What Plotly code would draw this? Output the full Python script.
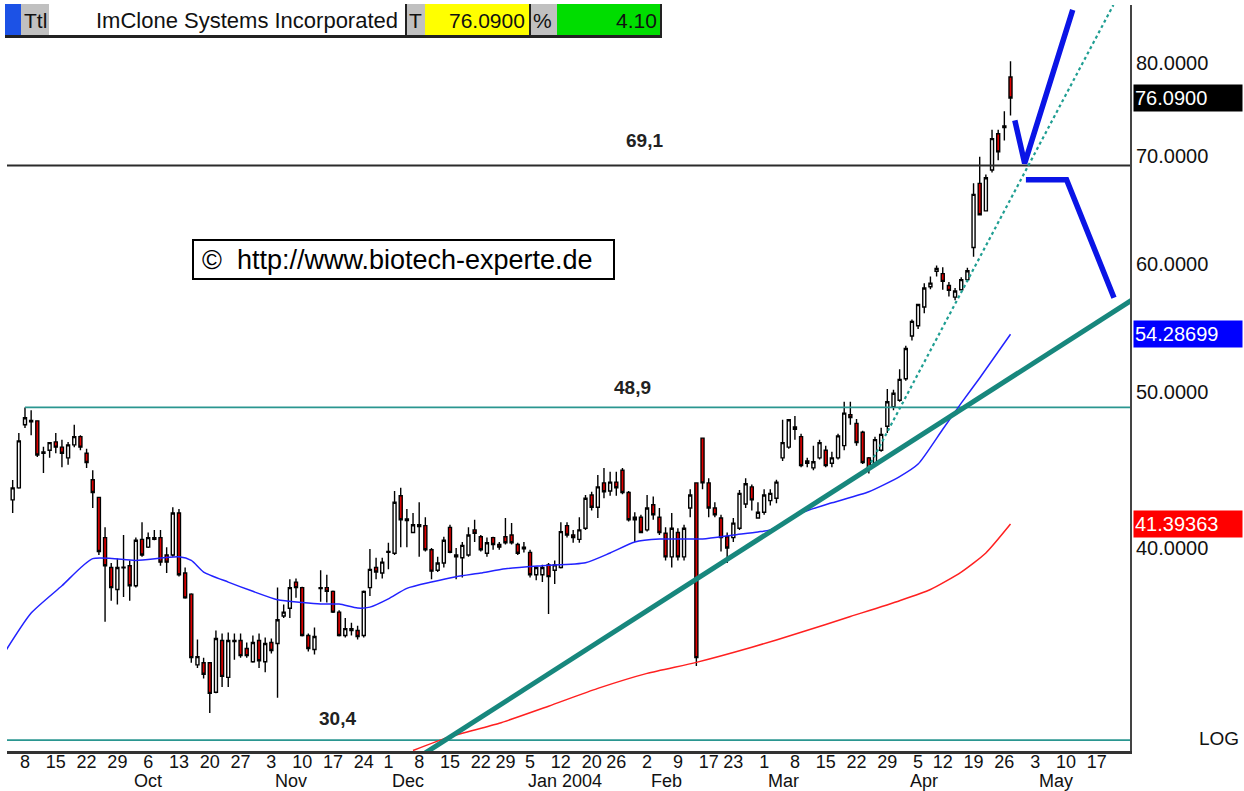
import numpy as np
import pandas as pd
import plotly.graph_objects as go

# ---------------- data ----------------
holidays = ["2003-11-27", "2003-12-25", "2004-01-01", "2004-01-19",
            "2004-02-16", "2004-04-09", "2004-05-31"]
cal = pd.bdate_range("2003-09-03", "2004-05-28")
cal = cal[~cal.isin(pd.to_datetime(holidays))]
day_pos = {d: i for i, d in enumerate(cal)}
first_candle = "2003-09-04"

opens = [42.85, 43.59, 47.70, 48.00, 47.97, 45.80, 46.00, 46.55, 46.20, 45.50,
         46.35, 46.90, 45.80, 44.10, 43.00, 40.60, 38.90, 37.70, 38.88, 39.00,
         37.90, 40.50, 40.05, 40.50, 40.60, 39.60, 39.60, 42.05, 38.60, 37.45,
         33.85, 33.95, 33.95, 32.55, 35.05, 33.25, 35.00, 35.05, 34.65, 34.00,
         35.05, 34.00, 34.95, 34.90, 36.30, 36.70, 38.10, 37.80, 35.30, 34.60,
         37.75, 37.80, 37.60, 36.50, 35.30, 35.65, 35.55, 35.30, 37.80, 38.90,
         38.60, 39.75, 39.70, 43.10, 41.60, 40.90, 41.25, 41.30, 39.90, 38.75,
         39.15, 41.20, 39.60, 39.45, 39.60, 41.05, 40.65, 39.70, 40.60, 40.20,
         40.65, 40.75, 40.20, 39.95, 39.75, 38.50, 38.50, 39.05, 38.75, 38.90,
         41.30, 40.75, 40.50, 41.15, 43.15, 42.40, 43.90, 43.40, 43.95, 44.70,
         43.30, 41.65, 41.80, 41.05, 42.55, 41.80, 40.85, 39.50, 40.90, 39.50,
         42.35, 43.90, 46.80, 43.90, 42.35, 41.75, 40.65, 40.60, 41.15, 42.60,
         43.65, 41.75, 42.10, 42.80, 42.95, 45.50, 46.20, 47.55, 46.90, 45.30,
         44.85, 45.50, 46.00, 45.15, 45.50, 46.30, 48.40, 47.80, 47.20, 45.50,
         45.15, 46.00, 47.60, 48.95, 49.40, 50.95, 54.15, 54.95, 56.45, 58.10,
         59.40, 59.20, 58.20, 57.25, 57.85, 58.70, 61.45, 67.35, 64.75, 68.65,
         72.30, 72.95, 78.40]
highs = [44.08, 47.15, 48.90, 48.70, 48.00, 46.22, 46.55, 47.15, 46.70, 46.55,
         47.70, 47.00, 46.10, 44.70, 43.00, 41.20, 39.15, 39.40, 40.75, 39.30,
         40.60, 41.50, 40.90, 41.05, 41.05, 40.05, 42.40, 42.30, 38.90, 37.50,
         35.10, 34.20, 33.95, 35.55, 35.40, 35.45, 35.40, 35.40, 34.95, 35.30,
         35.40, 35.20, 35.15, 37.80, 36.90, 38.25, 38.30, 37.85, 35.40, 35.70,
         38.75, 38.50, 37.65, 36.60, 36.20, 35.95, 35.80, 37.65, 39.95, 39.45,
         39.45, 40.30, 43.40, 43.60, 42.30, 42.05, 42.70, 41.80, 40.00, 39.50,
         40.65, 41.35, 40.00, 40.35, 41.20, 41.65, 40.75, 40.60, 40.65, 40.35,
         41.75, 41.45, 40.30, 40.35, 39.90, 38.95, 39.05, 39.15, 39.30, 41.50,
         41.50, 41.05, 41.80, 43.15, 43.35, 44.40, 44.85, 44.60, 44.60, 44.85,
         43.40, 42.10, 41.95, 43.15, 43.05, 42.35, 41.20, 42.05, 41.15, 41.35,
         43.50, 43.90, 46.85, 44.20, 42.70, 41.95, 40.90, 41.75, 43.45, 44.20,
         43.80, 42.70, 43.50, 43.50, 44.10, 48.05, 48.10, 48.30, 47.10, 45.50,
         46.30, 46.70, 46.30, 45.90, 47.10, 49.30, 49.30, 48.10, 47.30, 45.55,
         46.90, 47.50, 50.20, 50.15, 51.65, 53.40, 55.45, 56.70, 58.40, 58.95,
         59.90, 59.75, 58.50, 58.00, 58.90, 59.70, 67.35, 69.95, 68.20, 72.70,
         72.70, 74.65, 80.20]
lows = [42.06, 43.53, 47.49, 47.00, 45.56, 44.53, 45.50, 45.80, 44.90, 45.05,
        46.20, 46.00, 44.85, 42.35, 39.60, 36.00, 37.10, 36.90, 37.30, 37.10,
        37.80, 39.50, 40.00, 40.45, 39.00, 38.60, 39.50, 38.40, 37.20, 33.95,
        33.70, 33.20, 31.60, 32.50, 32.80, 32.80, 34.10, 34.20, 34.20, 33.95,
        33.70, 33.50, 34.40, 32.30, 36.20, 36.20, 37.25, 35.25, 34.50, 34.35,
        37.05, 37.00, 36.45, 35.25, 35.20, 35.30, 35.10, 35.20, 37.35, 38.25,
        38.30, 38.80, 39.60, 40.05, 40.05, 40.85, 39.50, 39.80, 38.25, 38.65,
        38.90, 39.70, 38.25, 38.35, 39.50, 40.35, 39.80, 39.50, 39.90, 39.90,
        40.20, 40.20, 39.60, 39.75, 38.35, 38.20, 38.10, 36.40, 38.00, 38.85,
        40.60, 40.30, 40.30, 41.05, 42.20, 41.75, 42.95, 43.10, 43.10, 43.20,
        41.55, 40.35, 40.85, 40.95, 41.65, 40.75, 39.30, 38.90, 39.30, 39.30,
        41.80, 33.80, 43.50, 41.80, 41.80, 39.80, 39.15, 40.35, 41.05, 42.35,
        42.20, 41.75, 41.95, 42.50, 42.65, 45.30, 46.10, 46.70, 44.90, 44.90,
        44.70, 45.40, 44.90, 44.90, 45.40, 46.00, 47.70, 46.30, 45.10, 44.50,
        44.95, 45.90, 47.15, 48.70, 49.30, 50.80, 53.80, 54.70, 55.95, 57.90,
        58.95, 57.85, 57.30, 57.00, 57.80, 58.50, 60.65, 64.35, 64.75, 68.40,
        69.60, 71.60, 74.20]
closes = [43.59, 46.62, 48.18, 47.90, 45.69, 45.89, 46.50, 46.20, 45.80, 46.35,
          46.90, 46.20, 45.20, 43.30, 39.80, 39.00, 37.80, 38.90, 38.92, 37.90,
          40.45, 39.60, 40.60, 40.60, 39.20, 39.20, 42.05, 38.50, 37.25, 34.20,
          34.25, 33.40, 32.50, 35.15, 33.30, 35.05, 35.05, 34.30, 34.30, 34.95,
          34.05, 34.90, 34.55, 36.10, 36.50, 37.80, 37.80, 35.30, 34.65, 35.25,
          37.80, 37.60, 36.50, 35.30, 35.65, 35.55, 35.25, 37.60, 38.80, 38.65,
          39.20, 39.80, 42.70, 41.65, 41.70, 41.35, 41.35, 39.90, 38.70, 39.15,
          40.45, 39.75, 39.50, 40.15, 40.75, 40.85, 39.90, 40.30, 40.20, 40.05,
          40.30, 40.30, 39.70, 40.05, 38.50, 38.90, 38.90, 38.40, 39.05, 40.95,
          40.75, 40.60, 41.05, 42.95, 42.40, 43.65, 43.35, 43.95, 43.60, 43.30,
          41.65, 41.80, 40.90, 42.35, 41.95, 40.90, 39.50, 41.15, 39.50, 41.15,
          43.15, 34.20, 43.90, 42.35, 41.95, 40.60, 40.00, 41.45, 43.25, 43.85,
          42.85, 42.10, 43.15, 43.25, 43.95, 46.50, 48.05, 47.40, 45.00, 45.15,
          45.25, 46.50, 45.00, 45.50, 46.95, 48.50, 48.20, 46.50, 45.20, 44.80,
          46.70, 47.05, 49.30, 49.90, 50.90, 53.20, 55.30, 56.65, 58.00, 58.40,
          59.65, 58.55, 57.80, 57.75, 58.70, 59.45, 66.30, 64.40, 67.90, 71.80,
          70.45, 73.10, 76.09]

# moving averages, sampled (trading day number since 2003-09-03, value)
ma_fast_day = [0, 4, 9, 14, 21, 28, 30, 32, 36, 40, 44, 48, 51, 54, 57, 59, 62,
               65, 69, 73, 77, 81, 87, 94, 98, 102, 106, 113, 118, 122, 124, 129,
               134, 140, 145, 148, 152, 155, 158, 163]
ma_fast = [34.6, 36.45, 37.9, 39.4, 39.3, 39.5, 39.3, 38.65, 38.1, 37.6, 37.15,
           37.0, 36.92, 36.92, 36.71, 36.76, 37.2, 37.76, 38.1, 38.39, 38.6,
           38.83, 39.0, 39.17, 39.72, 40.35, 40.52, 40.52, 40.75, 40.93, 41.05,
           42.06, 42.67, 43.35, 44.3, 45.1, 47.4, 49.2, 51.0, 54.28699]
ma_slow_day = [66, 72, 80, 88, 96, 104, 112, 121, 129, 137, 145, 150, 155, 159, 163]
ma_slow = [29.95, 30.55, 31.14, 31.91, 32.73, 33.44, 33.97, 34.71, 35.46, 36.27,
           37.1, 37.7, 38.65, 39.72, 41.39363]

levels = [69.1, 48.9, 30.4]
level_labels = ["69,1", "48,9", "30,4"]
level_start_day = [0, 3, 0]

trend_main_day = [68, 183]
trend_main_val = [29.85, 57.1]
trend_steep_day = [139.9, 179.7]
trend_steep_val = [44.85, 86.9]
arrow_up_day = [163.7, 165.3, 173.1]
arrow_up_val = [73.7, 69.3, 86.3]
arrow_down_day = [165.5, 172.1, 179.8]
arrow_down_val = [67.7, 67.7, 57.2]

last_price = 76.09
pct_change = 4.10
yticks = [40, 50, 60, 70, 80]

# ---------------- geometry helpers ----------------
W, H = 1244, 791
L, R, T, B = 7, 1130, 5, 751
def pxx(x):
    return (x - L) / (R - L)
def pxy(y):
    return (B - y) / (B - T)

start = day_pos[pd.Timestamp(first_candle)]
cx = list(range(start, start + len(opens)))

FONT = "Liberation Sans, Arial, sans-serif"
teal = "#17877d"

fig = go.Figure()

# horizontal levels
last_day = len(cal) - 1
for lv, s, col, w in zip(levels, level_start_day, ["#2b2b2b", "#2a9690", "#2a9690"], [2, 1.6, 1.6]):
    fig.add_trace(go.Scatter(x=[s, last_day], y=[lv, lv], mode="lines",
                             line=dict(color=col, width=w), hoverinfo="skip"))

# moving averages
fig.add_trace(go.Scatter(x=ma_slow_day, y=ma_slow, mode="lines",
                         line=dict(color="#ff2020", width=1.5, shape="spline", smoothing=0.6),
                         hoverinfo="skip"))
fig.add_trace(go.Scatter(x=ma_fast_day, y=ma_fast, mode="lines",
                         line=dict(color="#2222ff", width=1.5, shape="spline", smoothing=0.6),
                         hoverinfo="skip"))

# trend lines
fig.add_trace(go.Scatter(x=trend_main_day, y=trend_main_val, mode="lines",
                         line=dict(color=teal, width=5), hoverinfo="skip"))
fig.add_trace(go.Scatter(x=trend_steep_day, y=trend_steep_val, mode="lines",
                         line=dict(color="#1f9e92", width=2.2, dash="dot"), hoverinfo="skip"))

# candles
fig.add_trace(go.Candlestick(
    x=cx, open=opens, high=highs, low=lows, close=closes,
    increasing=dict(line=dict(color="black", width=1.4), fillcolor="white"),
    decreasing=dict(line=dict(color="black", width=1.4), fillcolor="#e00000"),
    whiskerwidth=0, hoverinfo="skip"))

# hand drawn projections
fig.add_trace(go.Scatter(x=arrow_up_day, y=arrow_up_val, mode="lines",
                         line=dict(color="#0a14e6", width=5.5), hoverinfo="skip"))
fig.add_trace(go.Scatter(x=arrow_down_day, y=arrow_down_val, mode="lines",
                         line=dict(color="#0a14e6", width=5.5), hoverinfo="skip"))

# ticks
tick_idx = [i for i in range(1, len(cal))
            if cal[i].isocalendar()[1] != cal[i - 1].isocalendar()[1]
            and cal[i] <= pd.Timestamp("2004-05-17")]
tick_txt = [str(cal[i].day) for i in tick_idx]
month_names = ["Oct", "Nov", "Dec", "Jan 2004", "Feb", "Mar", "Apr", "May"]
month_idx = [i for i in range(1, len(cal)) if cal[i].month != cal[i - 1].month][:len(month_names)]

ylo, yhi = np.log10(29.93), np.log10(86.9)

annotations = []
for name, i in zip(month_names, month_idx):
    annotations.append(dict(x=i, xref="x", y=pxy(781), yref="paper", text=name,
                            showarrow=False, xanchor="left", xshift=2, yanchor="middle",
                            font=dict(family=FONT, size=18, color="#111")))

label_pos = [(644, 140), (632, 387), (337, 718)]
for txt, (px_, py_) in zip(level_labels, label_pos):
    annotations.append(dict(x=pxx(px_), y=pxy(py_), xref="paper", yref="paper",
                            xanchor="center", yanchor="middle",
                            text="<b>%s</b>" % txt, showarrow=False,
                            font=dict(family=FONT, size=19, color="#222")))

# value boxes on right axis
for val, bg, fmt in [(last_price, "black", "%.4f"), (ma_fast[-1], "#0000ff", "%.5f"),
                     (ma_slow[-1], "#ff0000", "%.5f")]:
    annotations.append(dict(x=pxx(1133), xref="paper", y=np.log10(val), yref="y",
                            text=fmt % val, showarrow=False, xanchor="left", yanchor="middle",
                            width=106, height=24, align="left", bgcolor=bg, borderpad=1,
                            font=dict(family=FONT, size=20, color="white")))

annotations.append(dict(x=pxx(1241), y=pxy(738), xref="paper", yref="paper", text="LOG",
                        showarrow=False, xanchor="right", yanchor="middle",
                        font=dict(family=FONT, size=19, color="#111")))

# header bar
hy0, hy1 = pxy(35), pxy(4)
shapes = []
def hrect(x0, x1, color):
    shapes.append(dict(type="rect", xref="paper", yref="paper", x0=pxx(x0), x1=pxx(x1),
                       y0=hy0, y1=hy1, fillcolor=color, line=dict(width=0), layer="above"))
hrect(5, 21, "#1c52e6")
hrect(21, 49, "#c0c0c0")
hrect(49, 405, "white")
hrect(407, 425, "#c0c0c0")
hrect(425, 529, "#ffff00")
hrect(531, 557, "#c0c0c0")
hrect(557, 660, "#00dd00")
for xv in [406, 530, 661]:
    shapes.append(dict(type="line", xref="paper", yref="paper", x0=pxx(xv), x1=pxx(xv),
                       y0=hy0, y1=hy1, line=dict(color="#222", width=2), layer="above"))
shapes.append(dict(type="line", xref="paper", yref="paper", x0=pxx(5), x1=pxx(662),
                   y0=pxy(36.5), y1=pxy(36.5), line=dict(color="#222", width=3), layer="above"))

def htext(x, txt, anchor, size=21):
    annotations.append(dict(x=pxx(x), y=pxy(20), xref="paper", yref="paper", text=txt,
                            showarrow=False, xanchor=anchor, yanchor="middle",
                            font=dict(family=FONT, size=size, color="#111")))
htext(22, "Ttl", "left")
htext(400, "ImClone Systems Incorporated", "right", 22)
htext(407, "T", "left")
htext(527, "%.4f" % last_price, "right")
htext(531, "%", "left")
htext(659, "%.2f" % pct_change, "right")

# watermark box
shapes.append(dict(type="rect", xref="paper", yref="paper", x0=pxx(193), x1=pxx(614),
                   y0=pxy(279), y1=pxy(240), fillcolor="white",
                   line=dict(color="black", width=2), layer="above"))
annotations.append(dict(x=pxx(200), y=pxy(260), xref="paper", yref="paper",
                        text="\u00a9  http://www.biotech-experte.de", showarrow=False,
                        xanchor="left", yanchor="middle",
                        font=dict(family=FONT, size=27, color="black")))

fig.update_layout(
    width=W, height=H, margin=dict(l=L, r=W - R, t=T, b=H - B),
    paper_bgcolor="white", plot_bgcolor="white", showlegend=False,
    annotations=annotations, shapes=shapes,
    xaxis=dict(range=[0.08, 182.4], showgrid=False, zeroline=False, showline=True,
               linecolor="#333", linewidth=2.5, tickmode="array", tickvals=tick_idx,
               ticktext=tick_txt, tickangle=0, ticks="", ticklabelstandoff=-7,
               tickfont=dict(family=FONT, size=18, color="#111"),
               rangeslider=dict(visible=False)),
    yaxis=dict(type="log", range=[ylo, yhi], side="right", showgrid=False, zeroline=False,
               showline=True, linecolor="#444", linewidth=2, tickmode="array",
               tickvals=yticks, ticktext=["%.4f" % v for v in yticks], ticks="",
               tickfont=dict(family=FONT, size=20, color="#111")),
)

fig.write_html("out.html", config={"displayModeBar": False},
               post_script="document.body.style.margin='0px';")
